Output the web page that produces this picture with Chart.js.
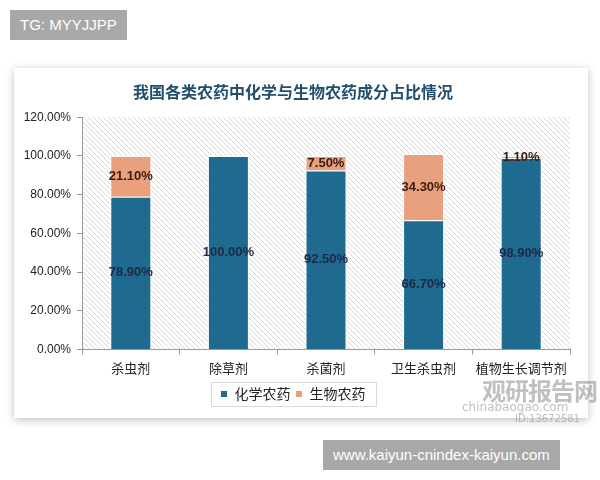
<!DOCTYPE html>
<html>
<head>
<meta charset="utf-8">
<script src="https://cdn.jsdelivr.net/npm/chart.js@4/dist/chart.umd.min.js"></script>
<style>
    body { margin: 0; width: 600px; height: 480px; background: #fff; position: relative; overflow: hidden; font-family: "Noto Sans CJK SC", sans-serif; }
    .badge { position: absolute; background: #a8a8a8; color: #fff; font-family: "Liberation Sans", Arial, sans-serif; font-size: 15px; line-height: 30px; padding: 0 10px; }
    #card { position: absolute; left: 14px; top: 68px; width: 574px; height: 350px; background: #fff; box-shadow: 0 2px 8px rgba(0,0,0,0.25); }
    .wm { position: absolute; color: rgba(130,130,130,0.5); pointer-events: none; white-space: nowrap; }
</style>
</head>
<body>
<div class="badge" style="left:10px;top:10px;">TG: MYYJJPP</div>
<div id="card"><canvas id="chart"></canvas></div>
<div class="wm" style="left:482px;top:372px;font-size:24px;font-weight:bold;letter-spacing:-1px;">观研报告网</div>
<div class="wm" style="left:462px;top:400px;font-size:12px;font-family:'DejaVu Sans';">chinabaogao.com</div>
<div class="wm" style="left:515px;top:413px;font-size:10px;font-family:'DejaVu Sans';">ID:13672581</div>
<div class="badge" style="left:323px;top:440px;">www.kaiyun-cnindex-kaiyun.com</div>

<script>
const categories = ['杀虫剂', '除草剂', '杀菌剂', '卫生杀虫剂', '植物生长调节剂'];
const chemical = [78.9, 100, 92.5, 66.7, 98.9];
const biological = [21.1, 0, 7.5, 34.3, 1.1];
const seriesNames = ['化学农药', '生物农药'];
const yTicks = [0, 20, 40, 60, 80, 100, 120];

const blue = '#1f6a8f';
const salmon = '#e9a07e';

function makeHatch() {
    const c = document.createElement('canvas');
    c.width = 5; c.height = 5;
    const g = c.getContext('2d');
    g.fillStyle = '#fff';
    g.fillRect(0, 0, 5, 5);
    g.strokeStyle = '#d6d6d6';
    g.lineWidth = 1;
    g.beginPath();
    g.moveTo(-1, -1); g.lineTo(6, 6);
    g.moveTo(-1, 4); g.lineTo(1, 6);
    g.moveTo(4, -1); g.lineTo(6, 1);
    g.stroke();
    return c;
}

const hatchBg = {
    id: 'hatchBg',
    beforeDraw(chart) {
        const { ctx, chartArea: a } = chart;
        ctx.save();
        ctx.fillStyle = ctx.createPattern(makeHatch(), 'repeat');
        ctx.fillRect(a.left, a.top, a.right - a.left, a.bottom - a.top);
        ctx.restore();
    }
};

const barLabels = {
    id: 'barLabels',
    afterDatasetsDraw(chart) {
        const ctx = chart.ctx;
        ctx.save();
        ctx.font = 'bold 13px "Liberation Sans", Arial, sans-serif';
        ctx.textAlign = 'center';
        ctx.textBaseline = 'middle';
        chart.data.datasets.forEach((ds, i) => {
            ctx.fillStyle = i === 0 ? '#1c2a48' : '#3a1c10';
            chart.getDatasetMeta(i).data.forEach((bar, j) => {
                const v = ds.data[j];
                if (!v) return;
                ctx.fillText(v.toFixed(2) + '%', bar.x, (bar.y + bar.base) / 2);
            });
        });
        ctx.restore();
    }
};

const legendBox = {
    id: 'legendBox',
    afterDraw(chart) {
        const boxes = chart.legend.legendHitBoxes;
        if (!boxes || !boxes.length) return;
        const l = Math.min(...boxes.map(b => b.left)) - 10;
        const r = Math.max(...boxes.map(b => b.left + b.width)) + 10;
        const t = boxes[0].top - 5;
        const h = boxes[0].height + 10;
        const ctx = chart.ctx;
        ctx.save();
        ctx.strokeStyle = '#d9d9d9';
        ctx.lineWidth = 1;
        ctx.strokeRect(Math.round(l) + 0.5, Math.round(t) + 0.5, Math.round(r - l), Math.round(h));
        ctx.restore();
    }
};

new Chart(document.getElementById('chart'), {
    type: 'bar',
    data: {
        labels: categories,
        datasets: [
            { label: seriesNames[0], data: chemical, backgroundColor: blue, borderColor: '#fff', borderWidth: 1 },
            { label: seriesNames[1], data: biological, backgroundColor: salmon, borderColor: '#fff', borderWidth: 1 }
        ]
    },
    options: {
        responsive: true,
        maintainAspectRatio: false,
        animation: false,
        layout: { padding: { left: 2, right: 18, top: 0, bottom: 7 } },
        datasets: { bar: { categoryPercentage: 1, barPercentage: 0.42 } },
        scales: {
            x: {
                stacked: true,
                grid: { drawOnChartArea: false, color: '#999', tickLength: 5 },
                border: { color: '#999' },
                ticks: { color: '#222', font: { size: 13, family: '"Noto Sans CJK SC"' }, padding: 6 }
            },
            y: {
                stacked: true,
                min: 0,
                max: 120,
                afterBuildTicks(scale) { scale.ticks = yTicks.map(v => ({ value: v })); },
                afterFit(scale) { scale.width = 66; },
                grid: { drawOnChartArea: false, color: '#999', tickLength: 5 },
                border: { color: '#999' },
                ticks: {
                    color: '#222',
                    font: { size: 12, family: '"Liberation Sans", Arial, sans-serif' },
                    padding: 6,
                    callback: v => v.toFixed(2) + '%'
                }
            }
        },
        plugins: {
            title: {
                display: true,
                text: '我国各类农药中化学与生物农药成分占比情况',
                color: '#234f6e',
                font: { size: 16, weight: 'bold', family: '"Noto Sans CJK SC"' },
                padding: { top: 14, bottom: 16 }
            },
            legend: {
                position: 'bottom',
                labels: {
                    color: '#222',
                    boxWidth: 7,
                    boxHeight: 7,
                    padding: 5,
                    font: { size: 14, family: '"Noto Sans CJK SC"' }
                }
            },
            tooltip: { enabled: false }
        }
    },
    plugins: [hatchBg, barLabels, legendBox]
});
</script>
</body>
</html>
